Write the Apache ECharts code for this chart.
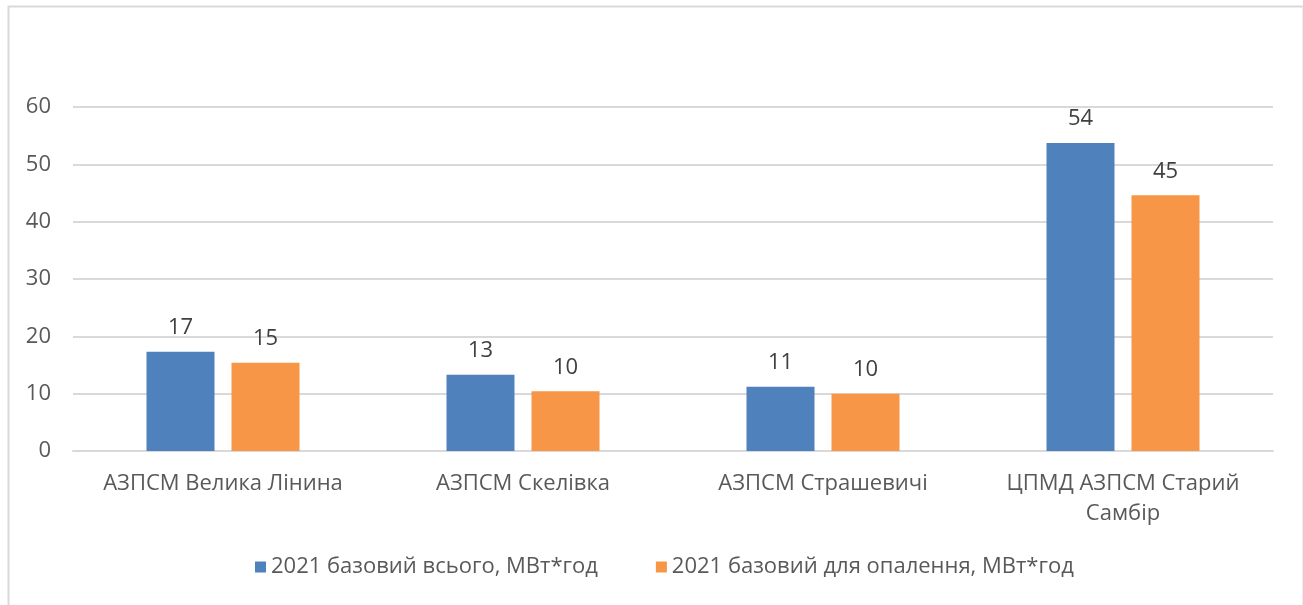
<!DOCTYPE html>
<html>
<head>
<meta charset="utf-8">
<script src="https://cdn.jsdelivr.net/npm/echarts@6/dist/echarts.min.js"></script>
<style>
  html, body { margin: 0; padding: 0; background: #fff; }
  #chart { width: 1303px; height: 605px; }
</style>
</head>
<body>
<div id="chart"></div>
<script>
// Station names along the category axis
const categories = [
  'АЗПСМ Велика Лінина',
  'АЗПСМ Скелівка',
  'АЗПСМ Страшевичі',
  'ЦПМД АЗПСМ Старий Самбір'
];
// Series names
const seriesNames = [
  '2021 базовий всього, МВт*год',
  '2021 базовий для опалення, МВт*год'
];
// Baseline consumption 2021, MWh
const totalValues = [17.3, 13.3, 11.2, 53.7];
const heatingValues = [15.4, 10.4, 10.0, 44.6];
// Value axis ticks
const yTicks = [0, 10, 20, 30, 40, 50, 60];

const FONT = '"Open Sans", "Noto Sans", sans-serif';
const colors = ['#4f81bd', '#f79646'];

// Long category names wrap before their last word
function wrapLabel(name) {
  if (name.length <= 20) return name;
  const i = name.lastIndexOf(' ');
  return name.slice(0, i) + '\n' + name.slice(i + 1);
}

const chart = echarts.init(document.getElementById('chart'), null, { renderer: 'canvas' });

const labelStyle = {
  show: true,
  position: 'top',
  distance: 13,
  color: '#404040',
  fontFamily: FONT,
  fontSize: 22,
  formatter: p => Math.round(p.value)
};

chart.setOption({
  animation: false,
  backgroundColor: '#fff',
  color: colors,
  graphic: [{
    type: 'rect',
    left: 6,
    top: 4,
    shape: { width: 1295, height: 620 },
    style: { fill: 'none', stroke: '#d9d9d9', lineWidth: 2 },
    silent: true
  }],
  grid: { left: 73, right: 30, top: 107, bottom: 154, containLabel: false },
  legend: {
    bottom: 22,
    left: 250,
    itemWidth: 11,
    itemHeight: 11,
    itemGap: 58,
    icon: 'rect',
    textStyle: { color: '#595959', fontFamily: '"Liberation Sans Narrow", ' + FONT, fontSize: 22 },
    data: seriesNames
  },
  xAxis: {
    type: 'category',
    data: categories,
    axisLine: { show: true, lineStyle: { color: '#d9d9d9', width: 2 } },
    axisTick: { show: false },
    axisLabel: {
      interval: 0,
      margin: 18,
      color: '#595959',
      fontFamily: FONT,
      fontSize: 22,
      lineHeight: 30,
      formatter: wrapLabel
    }
  },
  yAxis: {
    type: 'value',
    min: yTicks[0],
    max: yTicks[yTicks.length - 1],
    interval: yTicks[1] - yTicks[0],
    axisLine: { show: false },
    axisTick: { show: false },
    splitLine: { lineStyle: { color: '#d9d9d9', width: 2 } },
    axisLabel: {
      margin: 22,
      color: '#595959',
      fontFamily: FONT,
      fontSize: 22
    }
  },
  series: [
    {
      name: seriesNames[0],
      type: 'bar',
      data: totalValues,
      barWidth: 68,
      barGap: '25%',
      label: labelStyle
    },
    {
      name: seriesNames[1],
      type: 'bar',
      data: heatingValues,
      barWidth: 68,
      barGap: '25%',
      label: labelStyle
    }
  ]
});
</script>
</body>
</html>
